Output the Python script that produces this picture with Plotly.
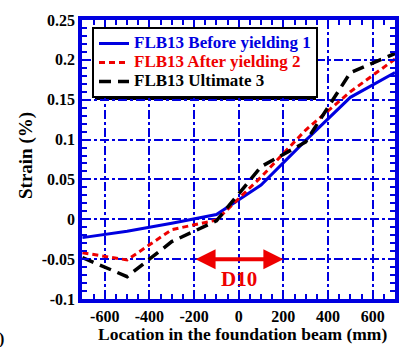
import plotly.graph_objects as go

# ---- data ----
location_mm = [-700, -500, -300, -100, 100, 300, 500, 700]
before_yielding_1 = [-0.023, -0.015, -0.005, 0.006, 0.043, 0.099, 0.153, 0.184]
after_yielding_2 = [-0.042, -0.051, -0.013, -0.001, 0.053, 0.112, 0.160, 0.201]
ultimate_3 = [-0.048, -0.072, -0.028, -0.002, 0.066, 0.097, 0.184, 0.208]

series_names = ["FLB13 Before yielding 1", "FLB13 After yielding 2", "FLB13 Ultimate 3"]

x_tick_vals = [-600, -400, -200, 0, 200, 400, 600]
x_tick_text = ["-600", "-400", "-200", "0", "200", "400", "600"]
y_tick_vals = [-0.1, -0.05, 0, 0.05, 0.1, 0.15, 0.2, 0.25]
y_tick_text = ["-0.1", "-0.05", "0", "0.05", "0.1", "0.15", "0.2", "0.25"]

BLUE = "#0000E0"
RED = "#EE0000"
BLACK = "#000000"
FONT = "'Liberation Serif', 'Times New Roman', Times, serif"

def legend_label(text, color):
    return f"<span style='color:{color};font-size:17px'>{text}</span>"

fig = go.Figure()
fig.add_trace(go.Scatter(
    x=location_mm, y=before_yielding_1, mode="lines",
    name=legend_label(series_names[0], BLUE),
    line=dict(color=BLUE, width=3)))
fig.add_trace(go.Scatter(
    x=location_mm, y=after_yielding_2, mode="lines",
    name=legend_label(series_names[1], RED),
    line=dict(color=RED, width=3, dash="6px,4px")))
fig.add_trace(go.Scatter(
    x=location_mm, y=ultimate_3, mode="lines",
    name=legend_label(series_names[2], BLACK),
    line=dict(color=BLACK, width=3.5, dash="12px,7px")))

L, R, T, B = 82, 11, 20, 48
W, H = 406, 347
pw, ph = W - L - R, H - T - B

def px_x(p):
    return (p - L) / pw

def px_y(p):
    return (H - B - p) / ph

axis_common = dict(
    showline=True, linewidth=3.5, linecolor=BLUE, mirror="allticks",
    showgrid=True, gridcolor=BLUE, gridwidth=1.5, griddash="dashdot",
    zeroline=False, automargin=False,
    ticks="inside", ticklen=7, tickwidth=2, tickcolor=BLUE,
    tickfont=dict(family=FONT, size=16, color="black", weight="bold"),
)

fig.update_xaxes(
    range=[-702, 700], tickvals=x_tick_vals, ticktext=x_tick_text,
    minor=dict(dtick=50, ticks="inside", ticklen=5, tickwidth=2, tickcolor=BLUE, showgrid=False),
    **axis_common)
fig.update_yaxes(
    range=[-0.1, 0.25], tickvals=y_tick_vals, ticktext=y_tick_text,
    minor=dict(dtick=0.01, ticks="inside", ticklen=5, tickwidth=2, tickcolor=BLUE, showgrid=False),
    **axis_common)

# axis titles
fig.add_annotation(x=px_x(242), y=px_y(334), xref="paper", yref="paper",
                   text="Location in the foundation beam (mm)", showarrow=False,
                   xanchor="center", yanchor="middle",
                   font=dict(family=FONT, size=17.5, color="black", weight="bold"))
fig.add_annotation(x=px_x(26), y=px_y(156), xref="paper", yref="paper",
                   text="Strain (%)", showarrow=False, textangle=-90,
                   xanchor="center", yanchor="middle",
                   font=dict(family=FONT, size=19, color="black", weight="bold"))

# D10 arrow and label
fig.add_annotation(x=200, y=-0.05, ax=-200, ay=-0.05, xref="x", yref="y",
                   axref="x", ayref="y", text="", showarrow=True,
                   arrowside="end+start", arrowhead=2, startarrowhead=2,
                   arrowsize=1.0, startarrowsize=1.0, arrowwidth=4, arrowcolor=RED)
fig.add_annotation(x=0, y=-0.0755, xref="x", yref="y", text="D10", showarrow=False,
                   font=dict(family=FONT, size=21, color=RED, weight="bold"))

# remnant of panel label at far left
fig.add_annotation(x=px_x(-3), y=px_y(339), xref="paper", yref="paper", text=")",
                   showarrow=False, xanchor="left", yanchor="middle",
                   font=dict(family=FONT, size=16, color="black", weight="bold"))

# legend shadow
fig.add_shape(type="rect", xref="paper", yref="paper",
              x0=px_x(95), x1=px_x(316), y0=px_y(100), y1=px_y(30),
              fillcolor="black", line=dict(width=0), layer="below")

fig.update_layout(
    width=W, height=H,
    margin=dict(l=L, r=R, t=T, b=B),
    paper_bgcolor="white", plot_bgcolor="white",
    font=dict(family=FONT, size=15, color="black", weight="bold"),
    showlegend=True,
    legend=dict(x=px_x(92), y=px_y(27), xanchor="left", yanchor="top",
                bgcolor="white", bordercolor="black", borderwidth=2,
                font=dict(family=FONT, size=11, weight="bold"),
                itemwidth=30, tracegroupgap=0),
)

fig.write_html("out.html", config={"displayModeBar": False},
               post_script="document.body.style.margin='0px';")
